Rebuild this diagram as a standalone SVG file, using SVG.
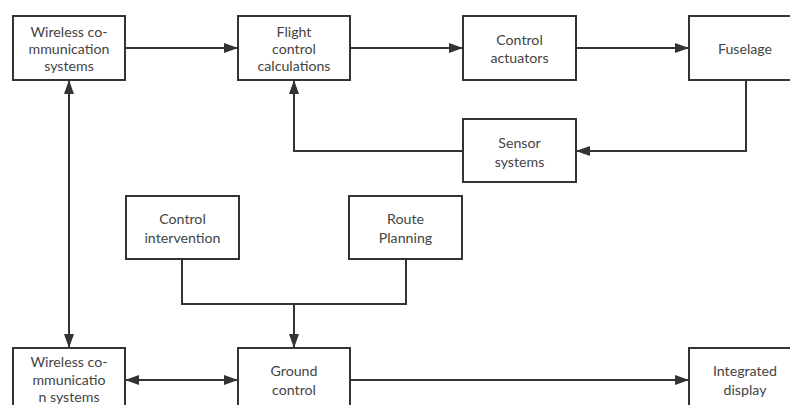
<svg xmlns="http://www.w3.org/2000/svg" width="790" height="405" viewBox="0 0 790 405">
<style>
.box{fill:#fff;stroke:#333;stroke-width:2}
.lbl{font-family:Lato,"Noto Sans",sans-serif;font-size:14.2px;fill:#444;text-anchor:middle;dominant-baseline:central}
.con{fill:none;stroke:#333;stroke-width:2}
</style>
<defs>
<marker id="arr" markerUnits="userSpaceOnUse" markerWidth="14" markerHeight="10" refX="14" refY="5" orient="auto-start-reverse">
<path d="M0,0 L14,5 L0,10 z" fill="#333"/>
</marker>
</defs>
<rect width="790" height="405" fill="#fff"/>
<g id="connectors">
<line class="con" x1="125" y1="48" x2="238" y2="48" marker-end="url(#arr)"/>
<line class="con" x1="350" y1="48" x2="463" y2="48" marker-end="url(#arr)"/>
<line class="con" x1="576" y1="48" x2="689" y2="48" marker-end="url(#arr)"/>
<polyline class="con" points="746,80 746,151 576,151" marker-end="url(#arr)"/>
<polyline class="con" points="463,151 294,151 294,80" marker-end="url(#arr)"/>
<line class="con" x1="69" y1="80" x2="69" y2="348" marker-start="url(#arr)" marker-end="url(#arr)"/>
<polyline class="con" points="182,259 182,304 406,304 406,259"/>
<line class="con" x1="294" y1="304" x2="294" y2="348" marker-end="url(#arr)"/>
<line class="con" x1="125" y1="380" x2="238" y2="380" marker-start="url(#arr)" marker-end="url(#arr)"/>
<line class="con" x1="350" y1="380" x2="689" y2="380" marker-end="url(#arr)"/>
</g>
<g id="wireless-top">
<rect class="box" x="13" y="16" width="112" height="64"/>
<text class="lbl" x="69" y="31">Wireless co-</text>
<text class="lbl" x="69" y="48">mmunication</text>
<text class="lbl" x="69" y="65">systems</text>
</g>
<g id="flight-control">
<rect class="box" x="238" y="16" width="112" height="64"/>
<text class="lbl" x="294" y="31">Flight</text>
<text class="lbl" x="294" y="48">control</text>
<text class="lbl" x="294" y="65">calculations</text>
</g>
<g id="control-actuators">
<rect class="box" x="463" y="16" width="113" height="64"/>
<text class="lbl" x="519.5" y="39">Control</text>
<text class="lbl" x="519.5" y="57">actuators</text>
</g>
<g id="fuselage">
<rect class="box" x="689" y="16" width="112" height="64"/>
<text class="lbl" x="745" y="48">Fuselage</text>
</g>
<g id="sensor-systems">
<rect class="box" x="463" y="119" width="113" height="63"/>
<text class="lbl" x="519.5" y="142">Sensor</text>
<text class="lbl" x="519.5" y="161">systems</text>
</g>
<g id="control-intervention">
<rect class="box" x="126" y="196" width="113" height="63"/>
<text class="lbl" x="182.5" y="218">Control</text>
<text class="lbl" x="182.5" y="237">intervention</text>
</g>
<g id="route-planning">
<rect class="box" x="349" y="196" width="113" height="63"/>
<text class="lbl" x="405.5" y="218">Route</text>
<text class="lbl" x="405.5" y="237">Planning</text>
</g>
<g id="wireless-bottom">
<rect class="box" x="13" y="348" width="112" height="64"/>
<text class="lbl" x="69" y="361">Wireless co-</text>
<text class="lbl" x="69" y="379">mmunicatio</text>
<text class="lbl" x="69" y="396">n systems</text>
</g>
<g id="ground-control">
<rect class="box" x="238" y="348" width="112" height="64"/>
<text class="lbl" x="294" y="370">Ground</text>
<text class="lbl" x="294" y="389">control</text>
</g>
<g id="integrated-display">
<rect class="box" x="689" y="348" width="112" height="64"/>
<text class="lbl" x="745" y="370">Integrated</text>
<text class="lbl" x="745" y="389">display</text>
</g>
</svg>
